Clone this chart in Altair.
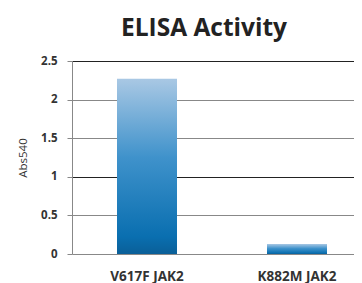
import altair as alt
import pandas as pd

categories = ["V617F JAK2", "K882M JAK2"]
values = [2.27, 0.13]
y_ticks = [0, 0.5, 1, 1.5, 2, 2.5]

df = pd.DataFrame({"sample": categories, "abs": values})

grad = alt.Gradient(
    gradient="linear",
    stops=[
        alt.GradientStop(color="#a9c8e4", offset=0),
        alt.GradientStop(color="#3f92cb", offset=0.45),
        alt.GradientStop(color="#0a6fb0", offset=0.9),
        alt.GradientStop(color="#0a5f98", offset=1),
    ],
    x1=0, x2=0, y1=0, y2=1,
)

chart = alt.Chart(df).mark_bar(color=grad).encode(
    x=alt.X("sample:N", sort=categories, title=None,
            scale=alt.Scale(paddingInner=0.6, paddingOuter=0.3, range=[0, 300]),
            axis=alt.Axis(labelAngle=0, ticks=False, domain=False, labelPadding=15,
                          labelFont="Open Sans", labelFontSize=13.5, labelFontWeight="bold",
                          labelColor="#333333")),
    y=alt.Y("abs:Q", title="Abs540",
            scale=alt.Scale(domain=[0, 2.5], nice=False),
            axis=alt.Axis(values=y_ticks, labelExpr="'' + datum.value",
                          tickSize=5, tickColor="#888888", labelPadding=10,
                          labelFont="Open Sans", labelFontSize=11.5, labelFontWeight="bold",
                          labelColor="#333333",
                          domainColor="#888888",
                          gridColor={"condition": {"test": "datum.value == 1 || datum.value == 2.5", "value": "#222222"}, "value": "#888888"},
                          gridWidth=1.2,
                          titleFont="Open Sans", titleFontSize=11.5, titleFontWeight="normal",
                          titleColor="#333333", titlePadding=12)),
).properties(
    width=282, height=193,
    title=alt.TitleParams("ELISA Activity", font="Open Sans", fontSize=24.5, fontWeight="bold",
                          color="#222222", offset=14, dx=-9),
    autosize=alt.AutoSizeParams(type="none"),
    padding={"left": 64, "top": 53, "right": 0, "bottom": 30},
).configure_view(stroke=None)

chart.save("out.html", embed_options={"renderer": "svg", "actions": False})
